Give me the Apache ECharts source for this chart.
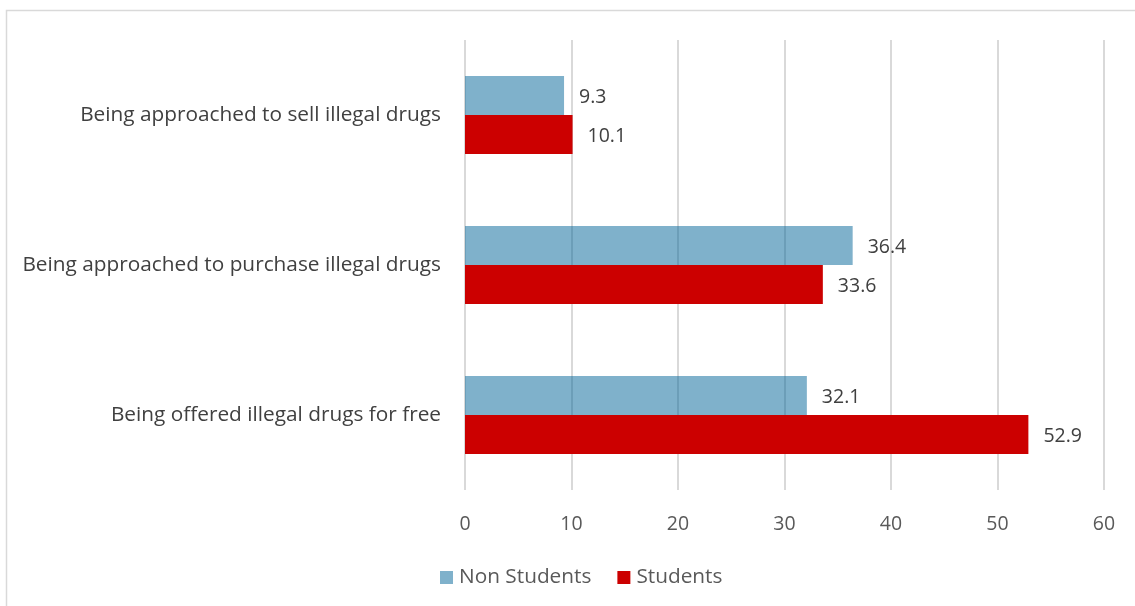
<!DOCTYPE html>
<html><head><meta charset="utf-8">
<script src="https://cdn.jsdelivr.net/npm/echarts@6/dist/echarts.min.js"></script>
<style>html,body{margin:0;padding:0;background:#fff}#c{width:1135px;height:606px}</style>
</head><body><div id="c"></div>
<script>
const categories = ["Being approached to sell illegal drugs", "Being approached to purchase illegal drugs", "Being offered illegal drugs for free"];
const nonStudents = [9.3, 36.4, 32.1];
const students = [10.1, 33.6, 52.9];
const xTicks = {min: 0, max: 60, interval: 10};
const FONT = "Open Sans";
const chart = echarts.init(document.getElementById('c'));
chart.setOption({
  animation: false,
  textStyle: {fontFamily: FONT},
  graphic: [{type: 'rect', shape: {x: 6.5, y: 10.5, width: 1200, height: 700}, style: {fill: 'none', stroke: '#d9d9d9', lineWidth: 1.5}, silent: true}],
  grid: {left: 465, right: 31, top: 40, bottom: 116, containLabel: false},
  legend: {bottom: 13, left: 435, itemWidth: 13, itemHeight: 13, itemGap: 26, icon: 'rect',
    textStyle: {fontSize: 20.8, color: '#595959', fontFamily: FONT, padding: [0,0,0,1]}, data: ['Non Students', 'Students']},
  xAxis: {type: 'value', min: xTicks.min, max: xTicks.max, interval: xTicks.interval,
    axisLine: {show: false}, axisTick: {show: false},
    splitLine: {lineStyle: {color: '#d9d9d9', width: 2}},
    axisLabel: {fontSize: 19.5, color: '#595959', margin: 24}},
  yAxis: {type: 'category', data: categories, inverse: true,
    axisLine: {show: false}, axisTick: {show: false},
    axisLabel: {fontSize: 20.8, color: '#404040', margin: 24}},
  series: [
    {name: 'Non Students', type: 'bar', data: nonStudents, barWidth: 39, barGap: '0%',
      itemStyle: {color: 'rgba(0,99,151,0.5)'}, z: 3,
      label: {show: true, position: 'right', distance: 15, offset: [0, 2], fontSize: 19.5, color: '#404040'}},
    {name: 'Students', type: 'bar', data: students, barWidth: 39, barGap: '0%',
      itemStyle: {color: '#cc0000'},
      label: {show: true, position: 'right', distance: 15, offset: [0, 2], fontSize: 19.5, color: '#404040'}}
  ]
});
</script></body></html>
